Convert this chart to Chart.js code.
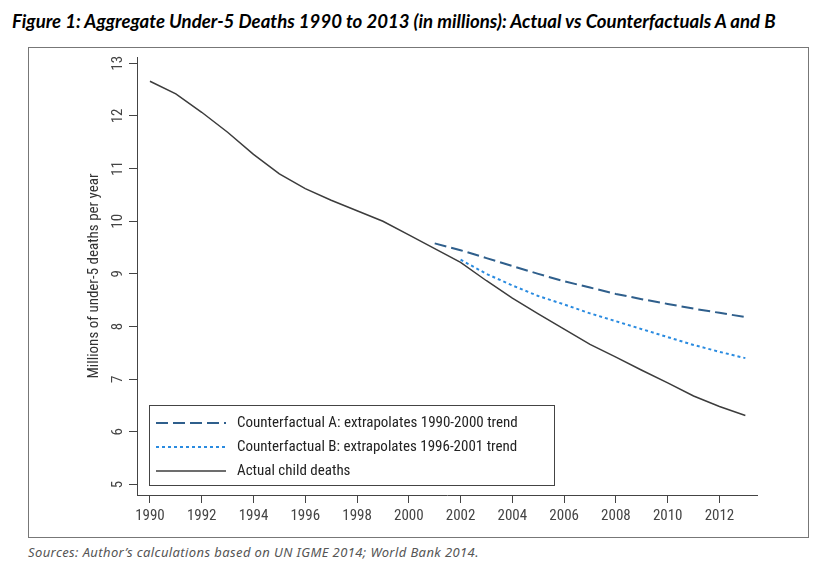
<!DOCTYPE html>
<html lang="en">
<head>
<meta charset="UTF-8">
<title>Under-5 Deaths 1990 to 2013</title>
<script src="https://cdn.jsdelivr.net/npm/chart.js"></script>
<style>
  body { margin: 0; background: #fff; width: 838px; height: 579px; position: relative; overflow: hidden; }
  .title { position: absolute; left: 12px; top: 10px; font: italic bold 18.6px Lato, sans-serif; color: #000; white-space: nowrap; }
  .frame { position: absolute; left: 28px; top: 47px; width: 779px; height: 489px; border: 1px solid #777; }
  .chart-box { position: absolute; left: 0; top: 0; width: 779px; height: 489px; }
  .source { position: absolute; left: 28px; top: 543px; font: italic 13px "Noto Sans", sans-serif; letter-spacing: 0.4px; color: #555; white-space: nowrap; }
</style>
</head>
<body>
<div class="title">Figure 1: Aggregate Under-5 Deaths 1990 to 2013 (in millions): Actual vs Counterfactuals A and B</div>
<div class="frame">
  <div class="chart-box"><canvas id="deathsChart"></canvas></div>
</div>
<div class="source">Sources: Author’s calculations based on UN IGME 2014; World Bank 2014.</div>

<script>
// data (millions of deaths)
const years = [1990, 1991, 1992, 1993, 1994, 1995, 1996, 1997, 1998, 1999, 2000, 2001,
               2002, 2003, 2004, 2005, 2006, 2007, 2008, 2009, 2010, 2011, 2012, 2013];
const actual = [12.66, 12.42, 12.07, 11.69, 11.27, 10.90, 10.62, 10.40, 10.20, 10.00, 9.74, 9.48,
                9.22, 8.87, 8.54, 8.24, 7.95, 7.66, 7.42, 7.17, 6.93, 6.68, 6.48, 6.31];
const yearsA = [2001, 2002, 2003, 2004, 2005, 2006, 2007, 2008, 2009, 2010, 2011, 2012, 2013];
const counterA = [9.58, 9.45, 9.30, 9.15, 9.00, 8.86, 8.74, 8.62, 8.52, 8.43, 8.34, 8.26, 8.18];
const yearsB = [2002, 2003, 2004, 2005, 2006, 2007, 2008, 2009, 2010, 2011, 2012, 2013];
const counterB = [9.27, 9.00, 8.78, 8.58, 8.42, 8.25, 8.10, 7.95, 7.80, 7.65, 7.52, 7.40];

const xTicks = [1990, 1992, 1994, 1996, 1998, 2000, 2002, 2004, 2006, 2008, 2010, 2012];
const yTicks = [5, 6, 7, 8, 9, 10, 11, 12, 13];
const legendLabels = [
    'Counterfactual A: extrapolates 1990-2000 trend',
    'Counterfactual B: extrapolates 1996-2001 trend',
    'Actual child deaths'
];

const axisFont = '"Liberation Sans Narrow", "Roboto Condensed", "Liberation Sans", sans-serif';
const axisColor = '#444';

function pts(xs, ys) {
    return xs.map((x, i) => ({ x: x, y: ys[i] }));
}

// y labels in R style (rotated), plus the legend box inside the plot
const extras = {
    id: 'extras',
    afterDraw(chart) {
        const ctx = chart.ctx;
        const ys = chart.scales.y;
        const area = chart.chartArea;
        ctx.save();
        ctx.fillStyle = axisColor;
        ctx.font = '15px ' + axisFont;
        ctx.textAlign = 'center';
        ctx.textBaseline = 'middle';
        yTicks.forEach(v => {
            const py = ys.getPixelForValue(v);
            ctx.save();
            ctx.translate(area.left - 19, py);
            ctx.rotate(-Math.PI / 2);
            ctx.fillText(String(v), 0, 0);
            ctx.restore();
        });

        // legend
        const bx = 120, by = 357, bw = 405, bh = 80;
        ctx.strokeStyle = '#444';
        ctx.lineWidth = 1;
        ctx.strokeRect(bx + 0.5, by + 0.5, bw, bh);
        ctx.font = '15px ' + axisFont;
        ctx.textAlign = 'left';
        ctx.fillStyle = '#222';
        legendLabels.forEach((lab, i) => {
            const ds = chart.data.datasets[i];
            const ly = by + 18 + i * 24;
            ctx.save();
            ctx.strokeStyle = ds.borderColor;
            ctx.lineWidth = ds.borderWidth;
            ctx.setLineDash(ds.borderDash || []);
            ctx.beginPath();
            ctx.moveTo(bx + 7, ly);
            ctx.lineTo(bx + 77, ly);
            ctx.stroke();
            ctx.restore();
            ctx.fillText(lab, bx + 88, ly);
        });
        ctx.restore();
    }
};

const ctx = document.getElementById('deathsChart').getContext('2d');
new Chart(ctx, {
    type: 'line',
    data: {
        datasets: [
            {
                label: legendLabels[0],
                data: pts(yearsA, counterA),
                borderColor: '#2f5f8c',
                borderWidth: 2,
                borderDash: [12, 5]
            },
            {
                label: legendLabels[1],
                data: pts(yearsB, counterB),
                borderColor: '#2a8be0',
                borderWidth: 2,
                borderDash: [3, 3]
            },
            {
                label: legendLabels[2],
                data: pts(years, actual),
                borderColor: '#3c3c3c',
                borderWidth: 1.5
            }
        ]
    },
    plugins: [extras],
    options: {
        responsive: true,
        maintainAspectRatio: false,
        animation: false,
        layout: { padding: { left: 0, top: 9, right: 51, bottom: 0 } },
        elements: {
            point: { radius: 0 },
            line: { tension: 0, fill: false }
        },
        plugins: {
            legend: { display: false },
            tooltip: { enabled: false }
        },
        scales: {
            x: {
                type: 'linear',
                min: 1989.5,
                max: 2013.45,
                afterBuildTicks: s => { s.ticks = xTicks.map(v => ({ value: v })); },
                afterFit: s => { s.height = 42; },
                grid: { display: true, drawOnChartArea: false, drawTicks: true, tickLength: 8, color: axisColor },
                border: { display: true, color: axisColor, width: 1 },
                ticks: {
                    color: axisColor,
                    font: { family: axisFont, size: 15 },
                    padding: 4,
                    maxRotation: 0,
                    autoSkip: false,
                    callback: v => String(v)
                }
            },
            y: {
                type: 'linear',
                min: 4.8,
                max: 13.12,
                afterBuildTicks: s => { s.ticks = yTicks.map(v => ({ value: v })); },
                afterFit: s => { s.width = 108; },
                grid: { display: true, drawOnChartArea: false, drawTicks: true, tickLength: 8, color: axisColor },
                border: { display: true, color: axisColor, width: 1 },
                ticks: { display: false },
                title: {
                    display: true,
                    text: 'Millions of under-5 deaths per year',
                    color: '#333',
                    font: { family: axisFont, size: 15 },
                    padding: { top: 56, bottom: 0 }
                }
            }
        }
    }
});
</script>
</body>
</html>
